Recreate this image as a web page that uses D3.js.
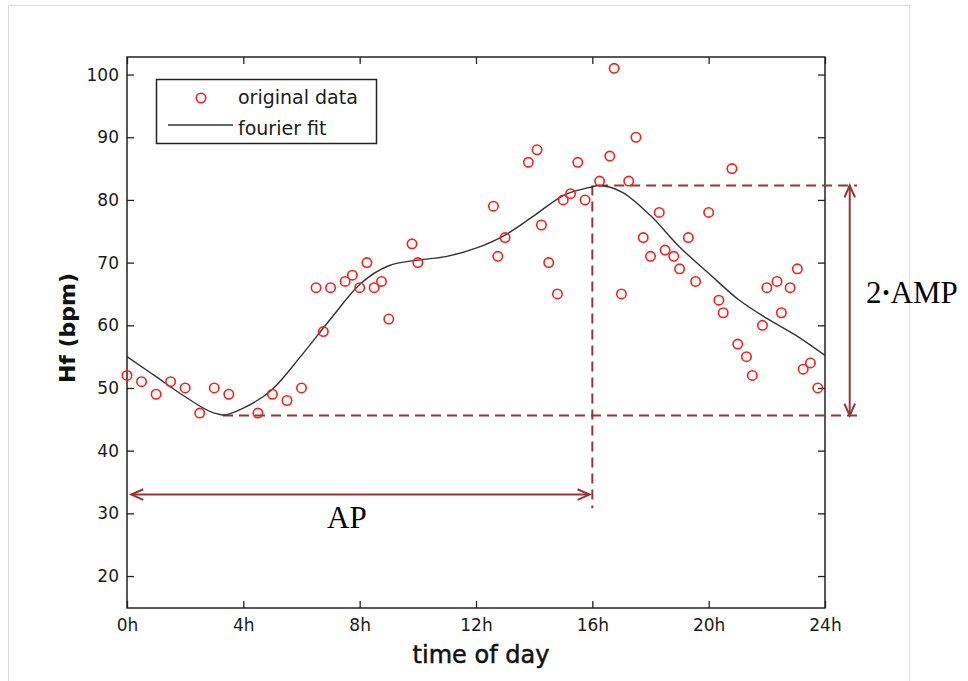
<!DOCTYPE html>
<html>
<head>
    <script src="https://cdn.jsdelivr.net/npm/d3@7"></script>
</head>

<style>
    body { margin: 0; background: #fff; }
    .fit {
        fill: none;
        stroke: #333;
        stroke-width: 1.4px;
    }
    .tick text { font-family: "DejaVu Sans", sans-serif; font-size: 17px; fill: #1a1a1a; }
    .tick line { stroke: #222; stroke-width: 1.3px; }
</style>

<body>
<div id="chart"></div>

<script>

    // measured heart rate (hour of day, bpm)
    var dataHours = [0, 0.5, 1, 1.5, 2, 2.5, 3, 3.5, 4.5, 5, 5.5, 6,
        6.5, 6.75, 7, 7.5, 7.75, 8, 8.25, 8.5, 8.75, 9, 9.8, 10,
        12.6, 12.75, 13, 13.8, 14.1, 14.25, 14.5, 14.8, 15, 15.25, 15.5, 15.75,
        16.25, 16.6, 16.75, 17, 17.25, 17.5, 17.75, 18, 18.3, 18.5, 18.8, 19,
        19.3, 19.55, 20, 20.35, 20.5, 20.8, 21, 21.3, 21.5, 21.85, 22, 22.35,
        22.5, 22.8, 23.05, 23.25, 23.5, 23.75];
    var dataValues = [52, 51, 49, 51, 50, 46, 50, 49, 46, 49, 48, 50,
        66, 59, 66, 67, 68, 66, 70, 66, 67, 61, 73, 70,
        79, 71, 74, 86, 88, 76, 70, 65, 80, 81, 86, 80,
        83, 87, 101, 65, 83, 90, 74, 71, 78, 72, 71, 69,
        74, 67, 78, 64, 62, 85, 57, 55, 52, 60, 66, 67,
        62, 66, 69, 53, 54, 50];

    // fourier fit
    var fitHours = [0, 1, 2, 3, 3.3, 4, 5, 6, 7, 8, 9, 10, 11, 12, 13, 14, 15, 16, 16.2, 17, 18, 19, 20, 21, 22, 23, 24];
    var fitValues = [55.0, 51.8, 48.6, 46.0, 45.7, 46.8, 49.8, 55.2, 61.0, 66.5, 69.5, 70.4, 71.0, 72.3, 74.4, 77.5, 80.7, 82.1, 82.3, 81.3, 77.5, 72.5, 68.3, 64.2, 61.1, 58.4, 55.2];

    var xTicks = [0, 4, 8, 12, 16, 20, 24];
    var yTicks = [20, 30, 40, 50, 60, 70, 80, 90, 100];

    // annotation values: [hour, bpm]
    var minPoint = [3.3, 45.6];
    var maxPoint = [16.2, 82.3];
    var apHour = 16;
    var apLineBottom = 30.8;
    var apArrow = [0.15, 15.9, 33];        // from, to, at bpm
    var ampArrowHour = 24.85;
    var dashEndHour = 25.1;

    var width = 968, height = 681;
    var plot = { left: 127, right: 825, top: 57, bottom: 608 };
    var annot = '#9a3333';

    var x = d3.scaleLinear().domain([0, 24]).range([plot.left, plot.right]);
    var y = d3.scaleLinear().domain([14.9, 102.8]).range([plot.bottom, plot.top]);

    var svg = d3.select('#chart').append('svg')
        .attr('width', width)
        .attr('height', height);

    svg.append('rect').attr('width', width).attr('height', height).attr('fill', '#fff');

    // faint figure border
    svg.append('rect')
        .attr('x', 8.5).attr('y', 5.5).attr('width', 901).attr('height', 700)
        .attr('fill', 'none').attr('stroke', '#dcdcdc');

    // axes, ticks inward
    svg.append('g').attr('transform', 'translate(' + plot.left + ',0)')
        .call(d3.axisLeft(y).tickValues(yTicks).tickSize(-7).tickPadding(8))
        .call(function(g) { g.select('.domain').remove(); });
    svg.append('g').attr('transform', 'translate(' + plot.right + ',0)')
        .call(d3.axisRight(y).tickValues(yTicks).tickSize(-7).tickFormat(''))
        .call(function(g) { g.select('.domain').remove(); });
    svg.append('g').attr('transform', 'translate(0,' + plot.bottom + ')')
        .call(d3.axisBottom(x).tickValues(xTicks).tickSize(-7).tickPadding(11).tickFormat(function(d) { return d + 'h'; }))
        .call(function(g) { g.select('.domain').remove(); });
    svg.append('g').attr('transform', 'translate(0,' + plot.top + ')')
        .call(d3.axisTop(x).tickValues(xTicks).tickSize(-7).tickFormat(''))
        .call(function(g) { g.select('.domain').remove(); });

    svg.append('rect')
        .attr('x', plot.left).attr('y', plot.top)
        .attr('width', plot.right - plot.left).attr('height', plot.bottom - plot.top)
        .attr('fill', 'none').attr('stroke', '#222').attr('stroke-width', 1.5);

    // annotation: dashed guides
    var dashed = svg.append('g')
        .attr('stroke', annot).attr('stroke-width', 2).attr('stroke-dasharray', '10,6').attr('fill', 'none');
    dashed.append('line')
        .attr('x1', x(maxPoint[0])).attr('x2', x(dashEndHour))
        .attr('y1', y(maxPoint[1])).attr('y2', y(maxPoint[1]));
    dashed.append('line')
        .attr('x1', x(minPoint[0])).attr('x2', x(dashEndHour))
        .attr('y1', y(minPoint[1])).attr('y2', y(minPoint[1]));
    dashed.append('line')
        .attr('x1', x(apHour)).attr('x2', x(apHour))
        .attr('y1', y(maxPoint[1])).attr('y2', y(apLineBottom));

    // double arrows
    function arrow(x1, y1, x2, y2) {
        var g = svg.append('g').attr('stroke', annot).attr('stroke-width', 2).attr('fill', 'none');
        g.append('line').attr('x1', x1).attr('y1', y1).attr('x2', x2).attr('y2', y2);
        var ang = Math.atan2(y2 - y1, x2 - x1);
        var len = 13, half = 0.42;
        [[x1, y1, ang + Math.PI], [x2, y2, ang]].forEach(function(e) {
            var a1 = e[2] + Math.PI - half, a2 = e[2] + Math.PI + half;
            g.append('path').attr('d',
                'M' + (e[0] + len * Math.cos(a1)) + ',' + (e[1] + len * Math.sin(a1)) +
                'L' + e[0] + ',' + e[1] +
                'L' + (e[0] + len * Math.cos(a2)) + ',' + (e[1] + len * Math.sin(a2)));
        });
    }
    arrow(x(apArrow[0]), y(apArrow[2]), x(apArrow[1]), y(apArrow[2]));
    arrow(x(ampArrowHour), y(maxPoint[1]), x(ampArrowHour), y(minPoint[1]));

    svg.append('text')
        .attr('x', 327).attr('y', 528)
        .attr('font-family', '"Liberation Serif", "Times New Roman", serif').attr('font-size', 31)
        .text('AP');
    var amp = svg.append('text')
        .attr('x', 866).attr('y', 303)
        .attr('font-family', '"Liberation Serif", "Times New Roman", serif').attr('font-size', 31);
    amp.append('tspan').text('2');
    amp.append('tspan').attr('font-size', 20).attr('dy', -3).attr('dx', 1).text('\u2022');
    amp.append('tspan').attr('dy', 3).attr('dx', 1).text('AMP');

    // fit curve
    var pen = d3.line()
        .curve(d3.curveMonotoneX)
        .x(function(d, i) { return x(fitHours[i]); })
        .y(function(d) { return y(d); });

    svg.append('path')
        .datum(fitValues)
        .attr('class', 'fit')
        .attr('d', pen);

    // data points
    svg.append('g').selectAll('circle')
        .data(dataValues)
        .enter()
        .append('circle')
        .attr('cx', function(d, i) { return x(dataHours[i]); })
        .attr('cy', function(d) { return y(d); })
        .attr('r', 4.7)
        .attr('fill', 'none')
        .attr('stroke', '#ff1a1a')
        .attr('stroke-width', 1.6);

    // legend
    var leg = svg.append('g');
    leg.append('rect')
        .attr('x', 156.5).attr('y', 79.5).attr('width', 220).attr('height', 64)
        .attr('fill', '#fff').attr('stroke', '#222').attr('stroke-width', 1.5);
    leg.append('circle')
        .attr('cx', 201).attr('cy', 98).attr('r', 4.7)
        .attr('fill', 'none').attr('stroke', '#ff1a1a').attr('stroke-width', 1.6);
    leg.append('line')
        .attr('x1', 168).attr('x2', 233).attr('y1', 125).attr('y2', 125)
        .attr('stroke', '#333').attr('stroke-width', 1.4);
    leg.selectAll('text')
        .data(['original data', 'fourier fit'])
        .enter()
        .append('text')
        .attr('x', 238)
        .attr('y', function(d, i) { return i ? 135 : 104; })
        .attr('font-family', '"DejaVu Sans", sans-serif')
        .attr('font-size', 19)
        .attr('fill', '#1a1a1a')
        .text(function(d) { return d; });

    // axis titles
    svg.append('text')
        .attr('x', 481).attr('y', 663)
        .attr('text-anchor', 'middle')
        .attr('font-family', '"DejaVu Sans", sans-serif').attr('font-size', 24)
        .attr('fill', '#111').attr('stroke', '#111').attr('stroke-width', 0.5)
        .text('time of day');
    svg.append('text')
        .attr('transform', 'translate(75,328) rotate(-90)')
        .attr('text-anchor', 'middle')
        .attr('font-family', '"DejaVu Sans", sans-serif').attr('font-size', 22).attr('font-weight', 'bold')
        .attr('fill', '#111')
        .text('Hf (bpm)');

</script>
</body>
</html>
